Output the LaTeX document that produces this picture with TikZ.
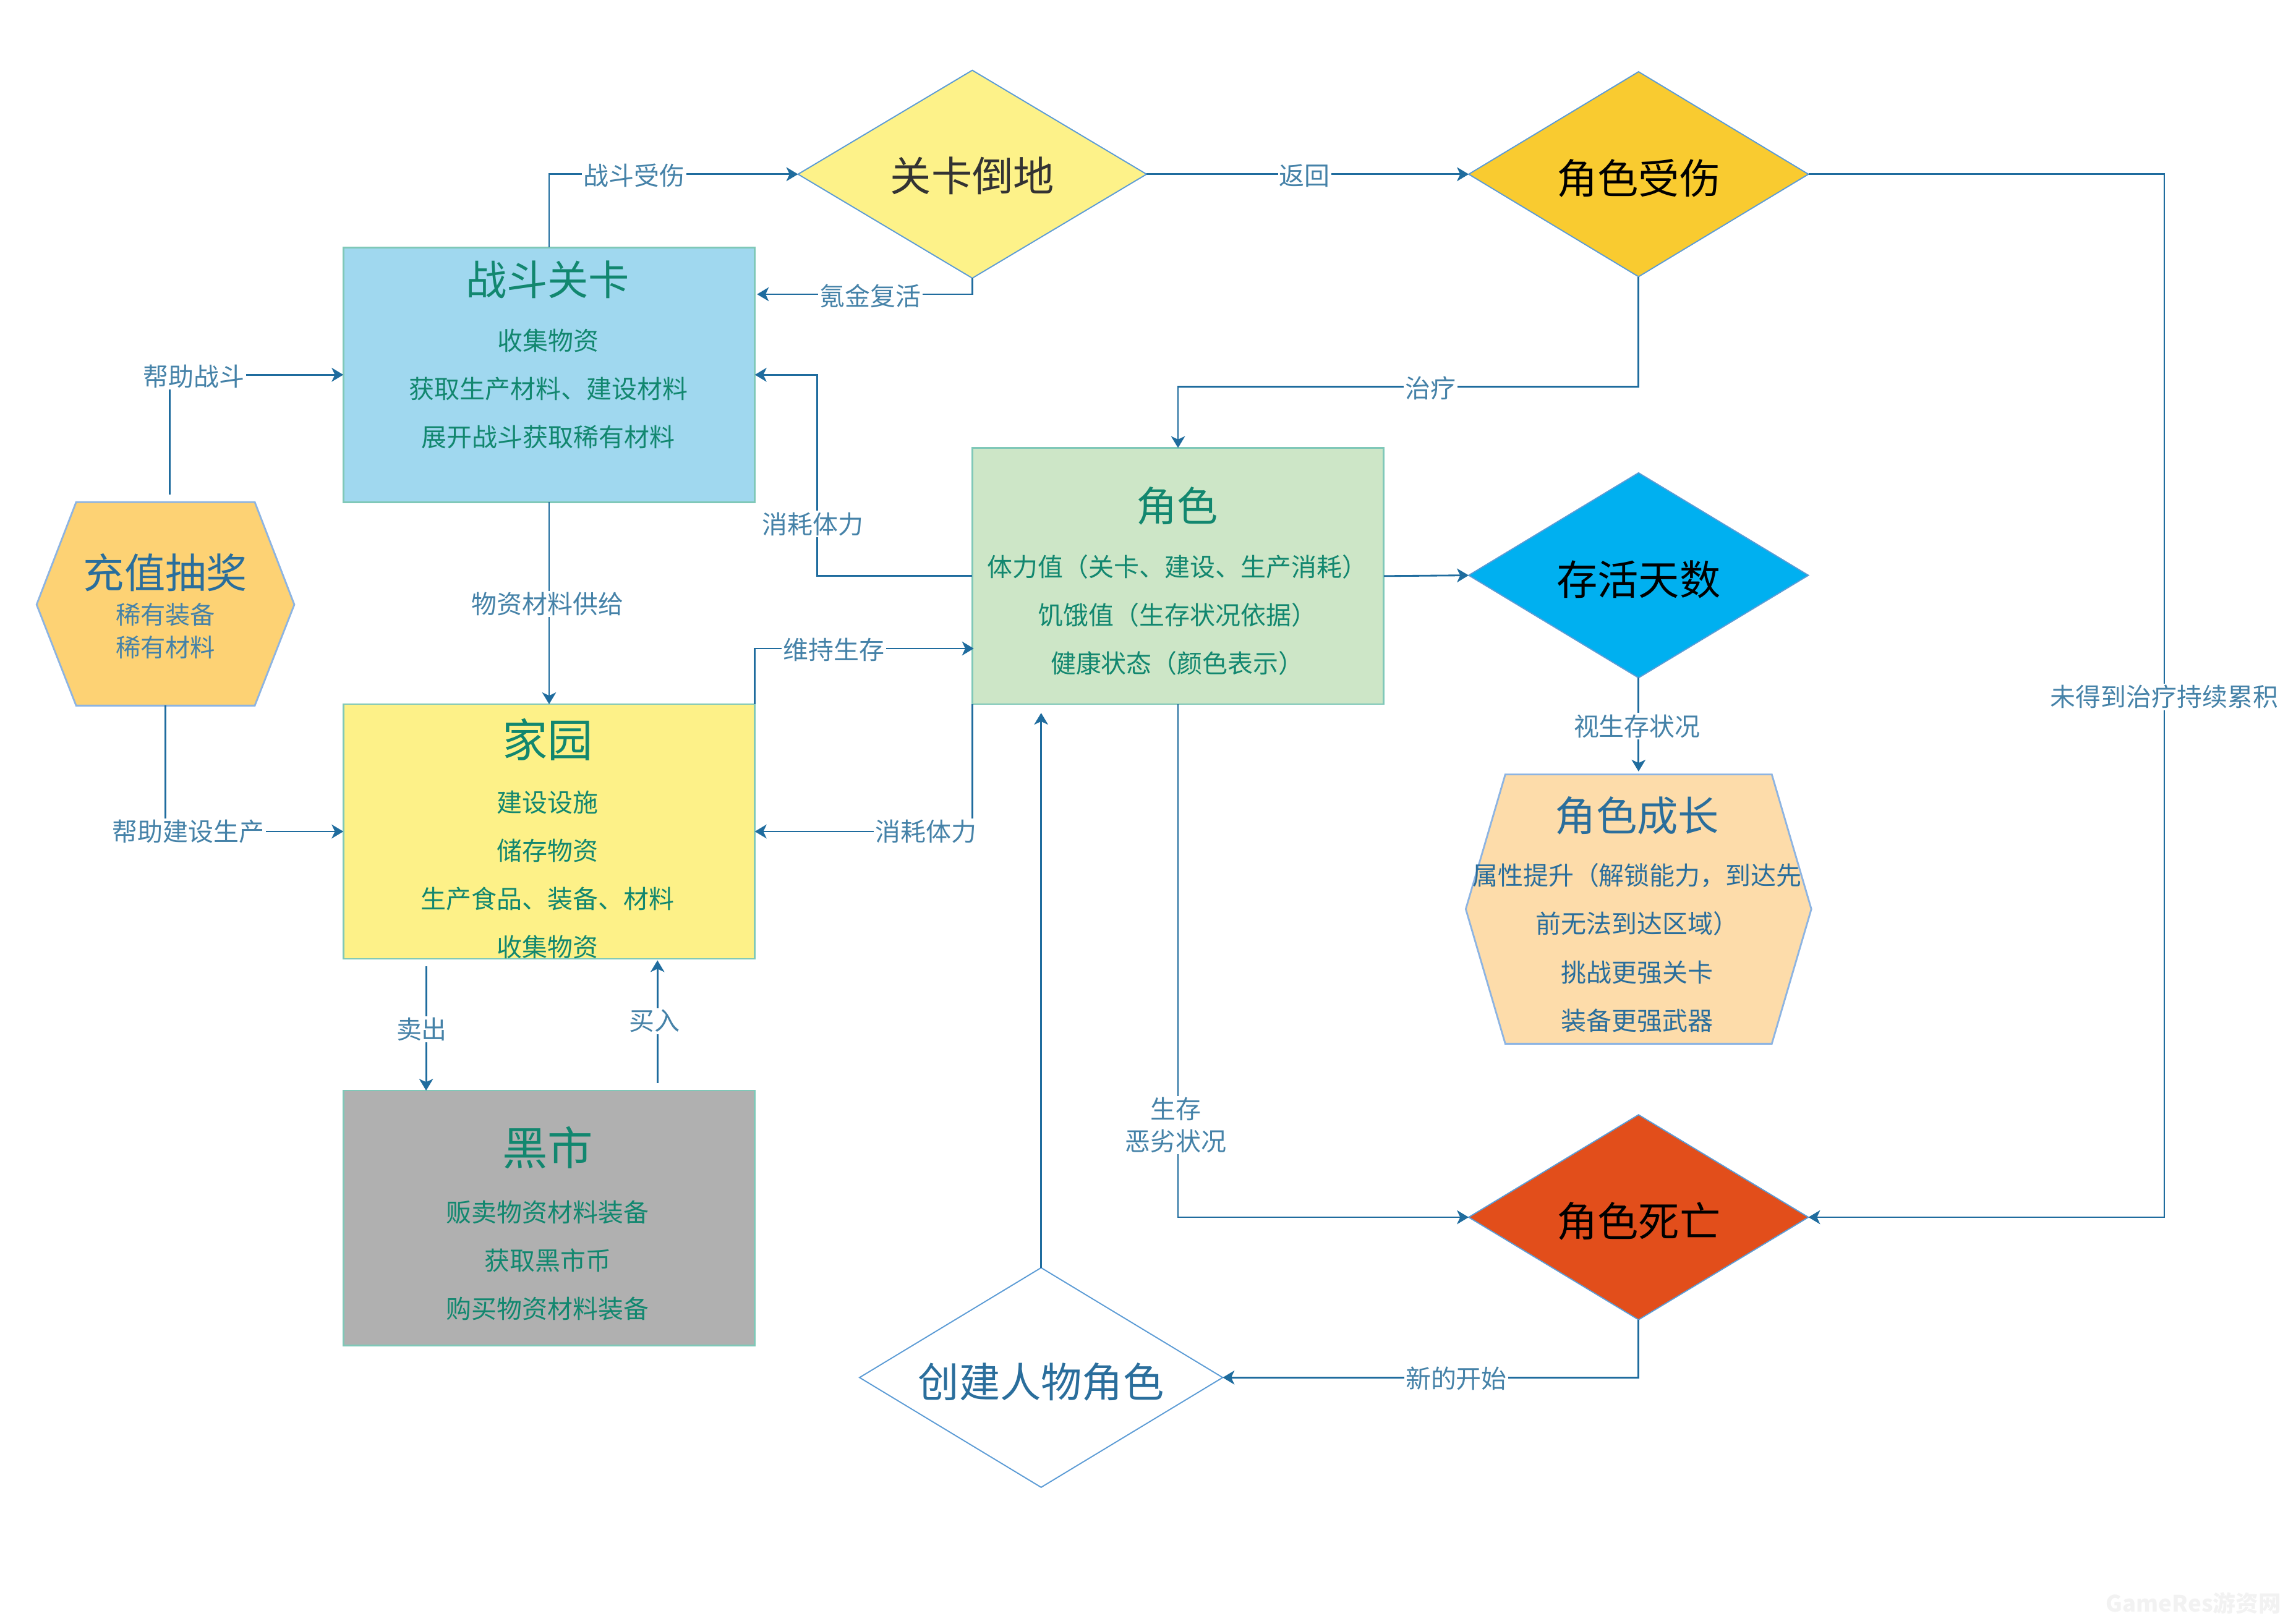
\documentclass[tikz,border=0pt]{standalone}
\usepackage{fontspec}
\setmainfont{Noto Sans CJK SC}
\usetikzlibrary{shapes.geometric, arrows.meta}
\definecolor{linkblue}{HTML}{1F6C9E}
\definecolor{labelblue}{HTML}{4582A8}
\definecolor{inkblue}{HTML}{2A6E9C}
\definecolor{inkgreen}{HTML}{12876F}
\definecolor{boxedge}{HTML}{80C8B8}
\definecolor{hexedge}{HTML}{8DB4E2}
\definecolor{diaedge}{HTML}{5B9BD5}
\tikzset{
  roombox/.style={draw=boxedge, line width=1.1pt, minimum width=281pt, minimum height=174pt, inner sep=0pt, outer sep=0pt},
  decision/.style={diamond, draw=diaedge, line width=0.8pt, aspect=1.6, inner sep=0pt, outer sep=0pt, font=\fontsize{28}{32}\selectfont, text depth=3pt},
  lowtext/.style={text height=30pt},
  hexshape/.style={draw=hexedge, line width=1.2pt},
  hexspot/.style={inner sep=0pt, outer sep=0pt},
  headtext/.style={font=\fontsize{28}{32}\selectfont, inner sep=0pt},
  bighead/.style={font=\fontsize{31}{34}\selectfont, inner sep=0pt},
  itemtext/.style={font=\fontsize{17.3}{33}\selectfont, align=center, inner sep=0pt},
  link/.style={-{Stealth[length=8pt, width=9.5pt, inset=2.2pt]}, line width=1.2pt, color=linkblue},
  linklabel/.style={fill=white, text=labelblue, font=\fontsize{17.3}{22}\selectfont, align=center, inner xsep=1pt, inner ysep=1pt},
}
\begin{document}
\begin{tikzpicture}[x=1pt, y=-1pt]
  \useasboundingbox (0, 0) rectangle (1568, 1109);

  \node [roombox, fill={rgb,255:red,160;green,216;blue,239}] (battle) at (375, 256) {};
  \node [roombox, fill={rgb,255:red,253;green,241;blue,136}] (home) at (375, 568) {};
  \node [roombox, fill={rgb,255:red,176;green,176;blue,176}] (market) at (375, 832) {};
  \node [roombox, fill={rgb,255:red,205;green,230;blue,199}, minimum height=175pt] (role) at (804.5, 393.5) {};

  \node [decision, fill={rgb,255:red,253;green,242;blue,137}, minimum width=238pt, minimum height=142pt, text=black!80, text height=26pt] (stage) at (664, 119) {关卡倒地};
  \node [decision, lowtext, fill={rgb,255:red,249;green,203;blue,48}, minimum width=232pt, minimum height=140pt] (hurt) at (1119, 119) {角色受伤};
  \node [decision, lowtext, fill={rgb,255:red,0;green,176;blue,240}, minimum width=232pt, minimum height=140pt] (survive) at (1119, 393) {存活天数};
  \node [decision, lowtext, fill={rgb,255:red,226;green,78;blue,27}, minimum width=232pt, minimum height=140pt] (death) at (1119, 831.5) {角色死亡};
  \node [decision, lowtext, fill=white, minimum width=248pt, minimum height=150pt, text=inkblue] (create) at (711, 941) {创建人物角色};

  \draw [hexshape, fill={rgb,255:red,253;green,210;blue,116}] (25, 413) -- (52, 343) -- (174, 343) -- (201, 413) -- (174, 482) -- (52, 482) -- cycle;
  \draw [hexshape, fill={rgb,255:red,253;green,220;blue,170}] (1001, 621) -- (1028, 529) -- (1210, 529) -- (1237, 621) -- (1210, 713) -- (1028, 713) -- cycle;
  \node [hexspot, minimum width=176pt, minimum height=139pt] (gacha) at (113, 412.5) {};
  \node [hexspot, minimum width=236pt, minimum height=184pt] (growth) at (1119, 621) {};

  \node [headtext, text=inkgreen] (battlehead) at (374, 191) {战斗关卡};
  \node [itemtext, text=inkgreen] (battleitems) at (374.5, 265.5) {收集物资\\获取生产材料、建设材料\\展开战斗获取稀有材料};
  \node [bighead, text=inkgreen] (homehead) at (374, 505) {家园};
  \node [itemtext, text=inkgreen] (homeitems) at (374, 597.5) {建设设施\\储存物资\\生产食品、装备、材料\\收集物资};
  \node [bighead, text=inkgreen] (markethead) at (374, 784) {黑市};
  \node [itemtext, text=inkgreen] (marketitems) at (374, 861) {贩卖物资材料装备\\获取黑市币\\购买物资材料装备};
  \node [headtext, text=inkgreen] (rolehead) at (804, 345.5) {角色};
  \node [itemtext, text=inkgreen] (roleitems) at (804, 420) {体力值（关卡、建设、生产消耗）\\饥饿值（生存状况依据）\\健康状态（颜色表示）};
  \node [headtext, text=inkblue] (gachahead) at (113, 391) {充值抽奖};
  \node [itemtext, text=labelblue, font=\fontsize{17}{22}\selectfont] (gachaitems) at (113, 431) {稀有装备\\稀有材料};
  \node [headtext, text=inkblue] (growthhead) at (1118, 557) {角色成长};
  \node [itemtext, text=inkblue] (growthitems) at (1118, 647.5) {属性提升（解锁能力，到达先\\前无法到达区域）\\挑战更强关卡\\装备更强武器};

  \coordinate (revive) at (517, 201);
  \coordinate (healdrop) at (1119, 264);
  \coordinate (giftup) at (116, 338);
  \coordinate (sellfrom) at (291, 660);
  \coordinate (sellto) at (291, 745);
  \coordinate (buyfrom) at (449, 740);
  \coordinate (buyto) at (449, 656);
  \coordinate (rebirth) at (711, 487);
  \coordinate (growtop) at (1119, 527);
  \coordinate (keepto) at (665, 443);

  \draw [link] (battle.north) |- (stage.west);
  \draw [link] (stage.south) |- (revive);
  \draw [link] (stage.east) -- (hurt.west);
  \draw [link] (hurt.south) -- (healdrop) -| (role.north);
  \draw [link] (hurt.east) -- (1478, 119) -- (1478, 831.5) -- (death.east);
  \draw [link] (role.west) -- (558, 393.5) |- (battle.east);
  \draw [link] (role.east) -- (survive.west);
  \draw [link] (survive.south) -- (growtop);
  \draw [link] (role.south) |- (death.west);
  \draw [link] (death.south) |- (create.east);
  \draw [link] (create.north) -- (rebirth);
  \draw [link] (role.south west) |- (home.east);
  \draw [link] (home.north east) |- (keepto);
  \draw [link] (battle.south) -- (home.north);
  \draw [link] (giftup) |- (battle.west);
  \draw [link] (gacha.south) |- (home.west);
  \draw [link] (sellfrom) -- (sellto);
  \draw [link] (buyfrom) -- (buyto);

  \node [linklabel] (fightlabel) at (433, 120) {战斗受伤};
  \node [linklabel] (revivelabel) at (594.5, 202) {氪金复活};
  \node [linklabel] (backlabel) at (891, 120) {返回};
  \node [linklabel] (heallabel) at (977, 265) {治疗};
  \node [linklabel] (woundlabel) at (1478, 476) {未得到治疗持续累积};
  \node [linklabel] (staminalabel) at (555, 358) {消耗体力};
  \node [linklabel] (viewlabel) at (1118, 496) {视生存状况};
  \node [linklabel] (badlabel) at (803, 768.5) {生存\\恶劣状况};
  \node [linklabel] (newlabel) at (994.5, 941.5) {新的开始};
  \node [linklabel] (worklabel) at (632.5, 568) {消耗体力};
  \node [linklabel] (keeplabel) at (569.5, 444) {维持生存};
  \node [linklabel] (supplylabel) at (374, 412.5) {物资材料供给};
  \node [linklabel] (helpfight) at (132.5, 257) {帮助战斗};
  \node [linklabel] (helpbuild) at (128.5, 568) {帮助建设生产};
  \node [linklabel] (selllabel) at (288, 703) {卖出};
  \node [linklabel] (buylabel) at (447, 697.5) {买入};

  \node [text=black!5, font=\fontsize{15.5}{17}\selectfont\bfseries, inner sep=0pt] (mark) at (1498, 1095) {GameRes游资网};
\end{tikzpicture}
\end{document}
